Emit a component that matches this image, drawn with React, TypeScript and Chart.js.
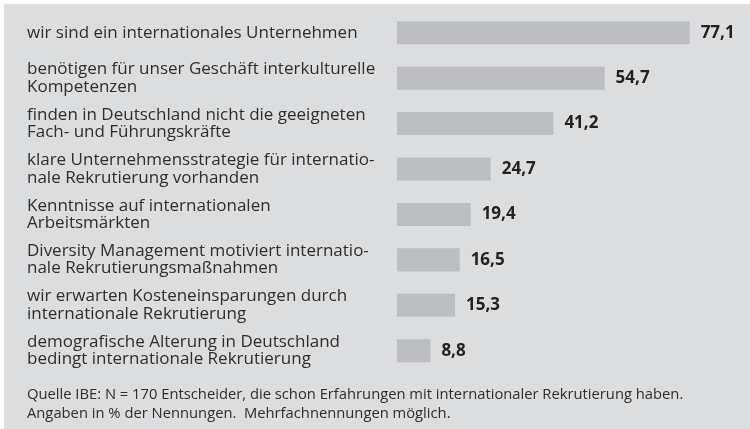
import React, { useEffect, useRef } from "react";
import { Chart, registerables } from "chart.js";

Chart.register(...registerables);

const categories: (string | string[])[] = [
  "wir sind ein internationales Unternehmen",
  ["benötigen für unser Geschäft interkulturelle", "Kompetenzen"],
  ["finden in Deutschland nicht die geeigneten", "Fach- und Führungskräfte"],
  ["klare Unternehmensstrategie für internatio-", "nale Rekrutierung vorhanden"],
  ["Kenntnisse auf internationalen", "Arbeitsmärkten"],
  ["Diversity Management motiviert internatio-", "nale Rekrutierungsmaßnahmen"],
  ["wir erwarten Kosteneinsparungen durch", "internationale Rekrutierung"],
  ["demografische Alterung in Deutschland", "bedingt internationale Rekrutierung"],
];

const values: number[] = [77.1, 54.7, 41.2, 24.7, 19.4, 16.5, 15.3, 8.8];

const footnote: string[] = [
  "Quelle IBE: N = 170 Entscheider, die schon Erfahrungen mit internationaler Rekrutierung haben.",
  "Angaben in % der Nennungen.  Mehrfachnennungen möglich.",
];

const FONT = "'Open Sans', 'Noto Sans', sans-serif";
const BG = "rgb(220,221,223)";
const BAR = "rgb(188,189,192)";
const TEXT = "#2e2e2e";

const backgroundPlugin = {
  id: "panelBg",
  beforeDraw(chart: any) {
    const { ctx, width, height } = chart;
    ctx.save();
    ctx.fillStyle = "#ffffff";
    ctx.fillRect(0, 0, width, height);
    ctx.fillStyle = BG;
    ctx.fillRect(4, 4, width - 4, height - 4);
    ctx.restore();
  },
};

const valueLabelPlugin = {
  id: "valueLabels",
  afterDatasetsDraw(chart: any) {
    const { ctx } = chart;
    const meta = chart.getDatasetMeta(0);
    ctx.save();
    ctx.font = `bold 17px ${FONT}`;
    ctx.fillStyle = "#222222";
    ctx.textAlign = "left";
    ctx.textBaseline = "middle";
    meta.data.forEach((bar: any, i: number) => {
      const v = chart.data.datasets[0].data[i] as number;
      ctx.fillText(v.toFixed(1).replace(".", ","), bar.x + 11, bar.y);
    });
    ctx.restore();
  },
};

export default function App() {
  const ref = useRef<HTMLCanvasElement>(null);

  useEffect(() => {
    document.body.style.margin = "0";
    const canvas = ref.current;
    if (!canvas) return;
    const chart = new Chart(canvas, {
      type: "bar",
      data: {
        labels: categories,
        datasets: [
          {
            data: values,
            backgroundColor: BAR,
            borderWidth: 0,
            barPercentage: 0.507,
            categoryPercentage: 1,
          },
        ],
      },
      options: {
        indexAxis: "y",
        responsive: false,
        animation: false,
        layout: { padding: { left: 27, right: 0, top: 10, bottom: 0 } },
        plugins: {
          legend: { display: false },
          tooltip: { enabled: false },
          title: {
            display: true,
            position: "bottom",
            align: "start",
            text: footnote,
            color: TEXT,
            font: { family: FONT, size: 14.75, weight: "normal", lineHeight: 1.29 },
            padding: { top: 12, bottom: 5.5 },
          },
        },
        scales: {
          x: {
            display: false,
            min: 0,
            max: 93,
          },
          y: {
            grid: { display: false },
            border: { display: false },
            ticks: {
              autoSkip: false,
              crossAlign: "far",
              color: TEXT,
              font: { family: FONT, size: 17, lineHeight: 1.03 },
            },
            afterFit(scale: any) {
              scale.width = 370;
              scale.paddingTop = 0;
              scale.paddingBottom = 0;
            },
          },
        },
      },
      plugins: [backgroundPlugin, valueLabelPlugin],
    });
    return () => chart.destroy();
  }, []);

  return <canvas ref={ref} width={750} height={429} style={{ display: "block" }} />;
}
